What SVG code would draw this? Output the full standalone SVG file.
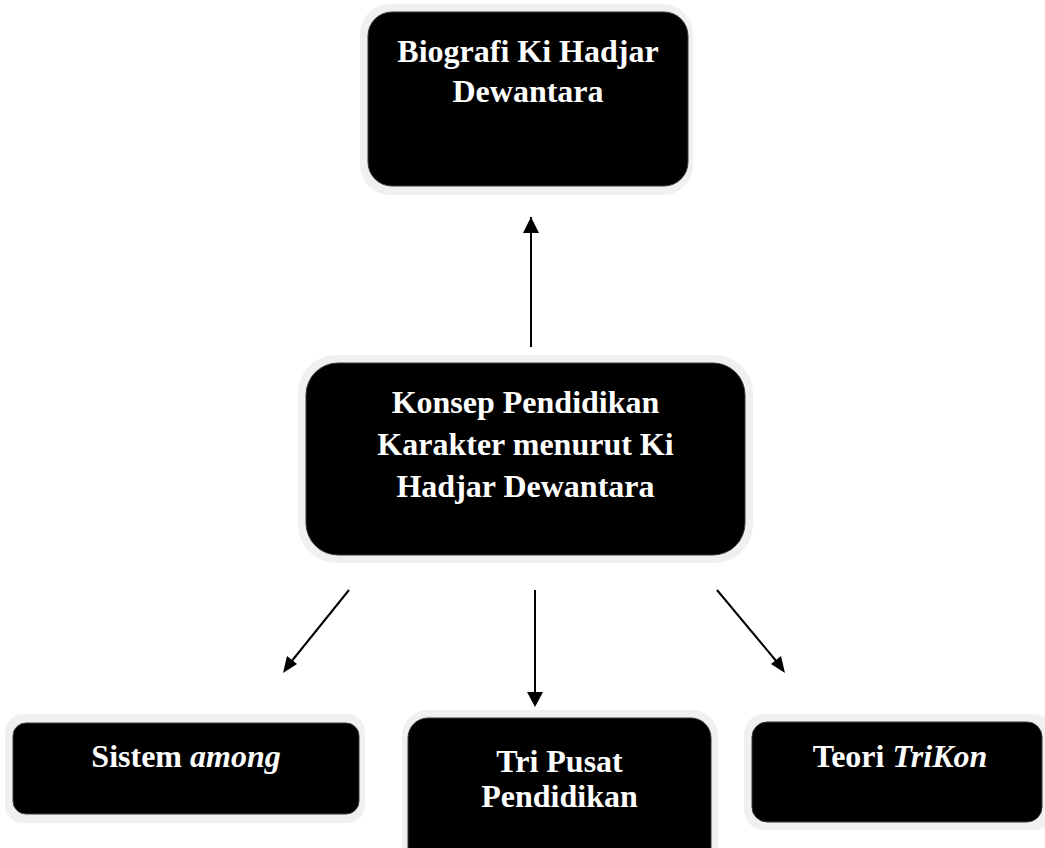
<svg xmlns="http://www.w3.org/2000/svg" width="1045" height="848" viewBox="0 0 1045 848">
<style>
.halo{fill:#f0f0f0}
.box{fill:#000;stroke:#3a3a3a;stroke-width:1}
.t{font-family:"Liberation Serif","Times New Roman",serif;font-weight:bold;font-size:32px;fill:#fff;text-anchor:middle}
.i{font-style:italic}
.c{stroke:#000;stroke-width:2;fill:none;marker-end:url(#ah)}
</style>
<defs>
<marker id="ah" viewBox="0 0 10 10" refX="10" refY="5" markerWidth="8" markerHeight="8" markerUnits="userSpaceOnUse" orient="auto">
<path d="M0,0 L10,5 L0,10 Z" fill="#000"/>
</marker>
</defs>
<rect width="1045" height="848" fill="#fff"/>
<g id="connectors">
<line class="c" x1="531" y1="347" x2="531" y2="217" style="marker-end:none"/>
<path d="M523,233 L531,217 L539,233 Z" fill="#000"/>
<line x1="349" y1="590" x2="291" y2="662" stroke="#000" stroke-width="2"/>
<path d="M283,673 L287,656 L297,664 Z" fill="#000"/>
<line x1="535" y1="590" x2="535" y2="693" stroke="#000" stroke-width="2"/>
<path d="M527,692 L535,707 L543,692 Z" fill="#000"/>
<line x1="717" y1="590" x2="777" y2="662" stroke="#000" stroke-width="2"/>
<path d="M785,673 L771,664 L781,656 Z" fill="#000"/>
</g>
<g id="node-biografi">
<rect class="halo" x="360" y="4" width="333" height="191" rx="30"/>
<rect class="box" x="368" y="12" width="320" height="174" rx="24"/>
<text class="t" x="528" y="62">Biografi Ki Hadjar</text>
<text class="t" x="528" y="102">Dewantara</text>
</g>
<g id="node-konsep">
<rect class="halo" x="298" y="355" width="455" height="208" rx="38"/>
<rect class="box" x="306" y="363" width="439" height="192" rx="32"/>
<text class="t" x="525.5" y="413">Konsep Pendidikan</text>
<text class="t" x="525.5" y="455">Karakter menurut Ki</text>
<text class="t" x="525.5" y="497">Hadjar Dewantara</text>
</g>
<g id="node-among">
<rect class="halo" x="5" y="714" width="360" height="109" rx="18"/>
<rect class="box" x="13" y="723" width="346" height="91" rx="13"/>
<text class="t" x="186" y="767">Sistem <tspan class="i">among</tspan></text>
</g>
<g id="node-tripusat">
<rect class="halo" x="402" y="710" width="316" height="160" rx="26"/>
<rect class="box" x="408" y="718" width="303" height="150" rx="20"/>
<text class="t" x="559.5" y="772">Tri Pusat</text>
<text class="t" x="559.5" y="807">Pendidikan</text>
</g>
<g id="node-trikon">
<rect class="halo" x="744" y="714" width="310" height="116" rx="20"/>
<rect class="box" x="752" y="722" width="290" height="100" rx="15"/>
<text class="t" x="900" y="767">Teori <tspan class="i">TriKon</tspan></text>
</g>
</svg>
